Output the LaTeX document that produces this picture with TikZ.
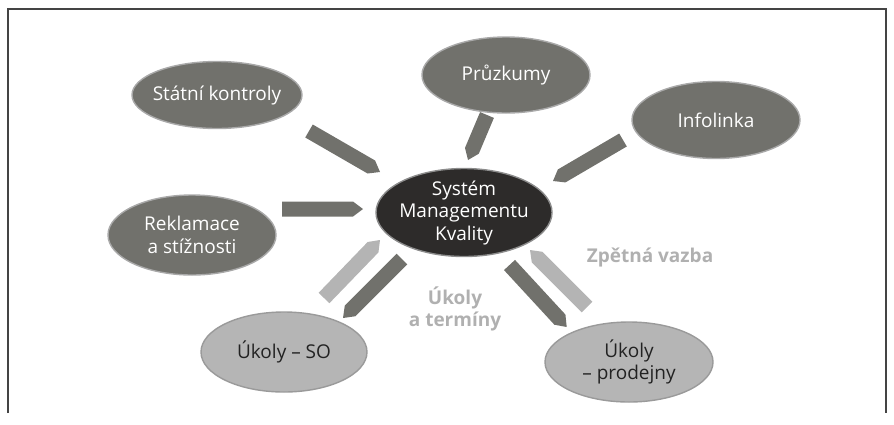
\documentclass[tikz,border=0pt]{standalone}
\usepackage{fontspec}
\setmainfont{Open Sans}
\usetikzlibrary{shapes.geometric,calc}
\definecolor{dk}{HTML}{71716C}
\definecolor{rimdk}{HTML}{A9A9A9}
\definecolor{ctr}{HTML}{2D2B2A}
\definecolor{rimctr}{HTML}{8C8C8C}
\definecolor{lt}{HTML}{B5B5B5}
\definecolor{rimlt}{HTML}{9A9A9A}
\definecolor{ltarrow}{HTML}{B4B4B4}
\definecolor{lbl}{HTML}{B0B0B0}
\definecolor{framec}{HTML}{444444}
\definecolor{darktext}{HTML}{222222}
\tikzset{
  ell/.style={ellipse, inner sep=0pt, line width=1.4pt},
  darkell/.style={ell, fill=dk, draw=rimdk},
  ctrell/.style={ell, fill=ctr, draw=rimctr},
  ltell/.style={ell, fill=lt, draw=rimlt},
  txtw/.style={text=white, align=center, font=\fontsize{19}{22.5}\selectfont},
  txtd/.style={text=darktext, align=center, font=\fontsize{19}{22.5}\selectfont},
  lbltxt/.style={text=lbl, align=center, font=\bfseries\fontsize{19}{22}\selectfont},
  framestyle/.style={draw=framec, line width=1.3pt},
}
\newcommand{\pentarrow}[3]{%
  \coordinate (tmpb) at ($(#2)!10pt!(#1)$);
  \fill[#3] ($(#1)!7.5pt!90:(#2)$) -- ($(tmpb)!7.5pt!90:(#2)$) -- (#2)
     -- ($(tmpb)!7.5pt!-90:(#2)$) -- ($(#1)!7.5pt!-90:(#2)$) -- cycle;}
\begin{document}
\begin{tikzpicture}[x=1pt,y=-1pt]
\useasboundingbox (0,0) rectangle (894,424);
\draw[framestyle] (8,413) -- (8,9) -- (886,9) -- (886,413);

% ellipses
\node[darkell, minimum width=170pt, minimum height=67pt] (stat) at (217,95) {};
\node[darkell, minimum width=168pt, minimum height=76pt] (pruz) at (506,75) {};
\node[darkell, minimum width=168pt, minimum height=77pt] (info) at (716,120) {};
\node[darkell, minimum width=168pt, minimum height=80pt] (rekl) at (192,235) {};
\node[ctrell, minimum width=176pt, minimum height=88pt] (sys) at (464,212.5) {};
\node[ltell, minimum width=166pt, minimum height=80pt] (so) at (284,352) {};
\node[ltell, minimum width=168pt, minimum height=80pt] (prod) at (629,362) {};

% texts
\node[txtw] (statt) at (stat.center) {Státní kontroly};
\node[txtw] (pruzt) at (pruz.center) {Průzkumy};
\node[txtw] (infot) at (info.center) {Infolinka};
\node[txtw] (reklt) at (rekl.center) {Reklamace\\a stížnosti};
\node[txtw] (syst) at (sys.center) {Systém\\Managementu\\Kvality};
\node[txtd] (sot) at (so.center) {Úkoly – SO};
\node[txtd] (prodt) at (prod.center) {Úkoly\\– prodejny};

\node[lbltxt] (ukoly) at (455,309) {Úkoly\\a termíny};
\node[lbltxt] (zpetna) at (650,257) {Zpětná vazba};

% arrow end points
\coordinate (a1s) at (309,131);   \coordinate (a1e) at (380,172);
\coordinate (a2s) at (487,115);   \coordinate (a2e) at (468,160);
\coordinate (a3s) at (623,140);   \coordinate (a3e) at (553,181);
\coordinate (a4s) at (282,209);   \coordinate (a4e) at (363,209);
\coordinate (a5s) at (324,298);   \coordinate (a5e) at (380,240);
\coordinate (a6s) at (402,259);   \coordinate (a6e) at (343,318);
\coordinate (a7s) at (509.5,265); \coordinate (a7e) at (566.7,327);
\coordinate (a8s) at (587,307);   \coordinate (a8e) at (530,250);

\pentarrow{a1s}{a1e}{dk}
\pentarrow{a2s}{a2e}{dk}
\pentarrow{a3s}{a3e}{dk}
\pentarrow{a4s}{a4e}{dk}
\pentarrow{a5s}{a5e}{ltarrow}
\pentarrow{a6s}{a6e}{dk}
\pentarrow{a7s}{a7e}{dk}
\pentarrow{a8s}{a8e}{ltarrow}
\end{tikzpicture}
\end{document}
